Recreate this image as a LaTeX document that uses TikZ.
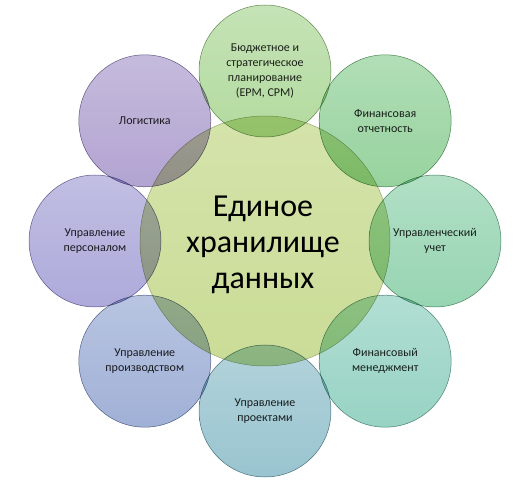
\documentclass[tikz,border=0pt]{standalone}
\usepackage{fontspec}
\setmainfont{Carlito}
\usetikzlibrary{calc}

\definecolor{hubcol}{RGB}{202,220,150}
\definecolor{cBud}{RGB}{170,214,148}
\definecolor{cRep}{RGB}{140,206,148}
\definecolor{cAcc}{RGB}{140,208,170}
\definecolor{cMan}{RGB}{140,206,190}
\definecolor{cPrj}{RGB}{142,190,202}
\definecolor{cPrd}{RGB}{150,168,210}
\definecolor{cPer}{RGB}{164,160,214}
\definecolor{cLog}{RGB}{170,154,204}

\tikzset{
  hub/.style={circle, minimum size=250pt, inner sep=0pt, draw=hubcol!75!black,
    line width=0.5pt, top color=hubcol!80!white, bottom color=hubcol,
    align=center, font=\fontsize{32}{36}\selectfont},
  sat/.style={circle, minimum size=132pt, inner sep=0pt, draw=#1!70!black,
    line width=0.5pt, top color=#1!75!white, bottom color=#1, fill opacity=0.9,
    text opacity=1, text=black!85, align=center, font=\fontsize{12}{15}\selectfont},
}

\begin{document}
\begin{tikzpicture}[x=1pt, y=-1pt]
  \useasboundingbox (0,0) rectangle (520,489);

  % Central storage
  \node[hub] (hub) at (265,241) {};
  \node[font=\fontsize{32}{36}\selectfont, align=center] (hubtxt) at (263,245) {Единое\\хранилище\\данных};

  % Satellite circles
  \begin{scope}[blend mode=multiply]
    \foreach \ang/\col/\nm/\txt in {
        90/cBud/bud/{Бюджетное и\\стратегическое\\планирование\\(EPM, CPM)},
        45/cRep/rep/{Финансовая\\отчетность},
        0/cAcc/acc/{Управленческий\\учет},
        -45/cMan/man/{Финансовый\\менеджмент},
        -90/cPrj/prj/{Управление\\проектами},
        -135/cPrd/prd/{Управление\\производством},
        180/cPer/per/{Управление\\персоналом},
        135/cLog/log/{Логистика}}
      \node[sat=\col] (\nm) at ($(hub)+(\ang:170pt)$) {\txt};
  \end{scope}
\end{tikzpicture}
\end{document}
